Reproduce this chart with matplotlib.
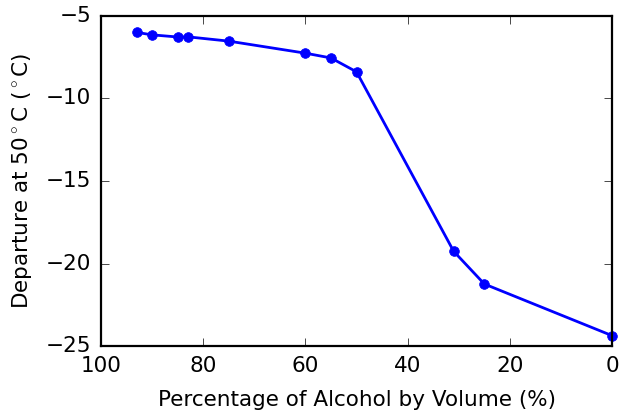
import numpy as np
import matplotlib
matplotlib.use('Agg')
import matplotlib.pyplot as plt

plt.style.use('classic')

alcohol = [93, 90, 85, 83, 75, 60, 55, 50, 31, 25, 0]
departure = [-6.0, -6.15, -6.28, -6.27, -6.53, -7.26, -7.55, -8.39, -19.26, -21.24, -24.37]

fig = plt.figure(figsize=(6.26, 4.17), dpi=100)
fig.patch.set_facecolor('white')
ax = fig.add_axes([0.161, 0.170, 0.817, 0.792])

ax.plot(alcohol, departure, 'b-o', lw=2, ms=7, mec='b', clip_on=False)

ax.set_xlim(100, 0)
ax.set_ylim(-25, -5)
ax.set_xticks([100, 80, 60, 40, 20, 0])
ax.set_yticks([-25, -20, -15, -10, -5])
ax.tick_params(labelsize=15.5, length=6, pad=7)
for s in ax.spines.values():
    s.set_linewidth(1.6)

ax.set_xlabel('Percentage of Alcohol by Volume (%)', fontsize=15.5, labelpad=10)
ax.set_ylabel(r'Departure at 50$^\circ$C ($^\circ$C)', fontsize=15.5, labelpad=8)

plt.savefig('out.png', dpi=100, facecolor='white')
